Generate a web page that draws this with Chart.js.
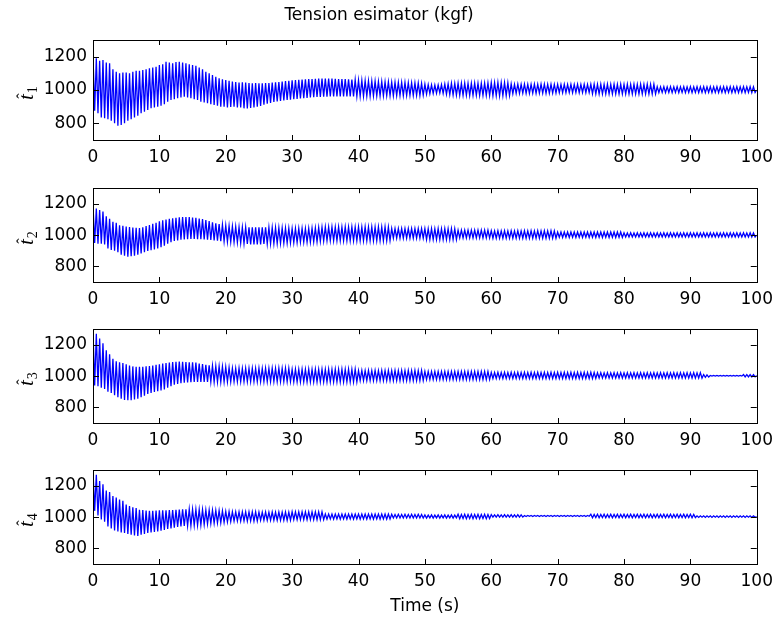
<!DOCTYPE html>
<html>
<head>
<meta charset="utf-8">
<script src="https://cdn.jsdelivr.net/npm/chart.js@4.4.1/dist/chart.umd.min.js"></script>
<style>
  html, body { margin: 0; padding: 0; background: #fff; }
  #wrap { position: relative; width: 780px; height: 623px; }
  canvas { position: absolute; left: 0; }
</style>
</head>
<body>
<div id="wrap">
  <canvas id="c1" width="780" height="170" style="top:0px"></canvas>
  <canvas id="c2" width="780" height="140" style="top:172px"></canvas>
  <canvas id="c3" width="780" height="140" style="top:313px"></canvas>
  <canvas id="c4" width="780" height="169" style="top:454px"></canvas>
</div>
<script>
// sample step of the read-off values (s)
const DT = 0.25;
const X_TICKS = [0, 10, 20, 30, 40, 50, 60, 70, 80, 90, 100];
const Y_TICKS = [800, 1000, 1200];

// tension estimates (kgf), one value every 0.25 s
const T1_HAT = [
  1205, 875, 1190, 860, 1175, 835, 1180, 830, 1165, 825, 1160, 815, 1125, 800, 1110, 785, 1100, 790, 1105, 800,
  1105, 815, 1100, 825, 1110, 835, 1115, 845, 1115, 860, 1120, 870, 1125, 880, 1130, 890, 1135, 895, 1140, 900,
  1150, 905, 1155, 915, 1170, 930, 1165, 940, 1160, 945, 1168, 950, 1170, 955, 1165, 960, 1160, 955, 1155, 950,
  1150, 945, 1145, 940, 1135, 930, 1125, 925, 1110, 920, 1100, 915, 1090, 910, 1080, 905, 1070, 900, 1065, 900,
  1060, 895, 1055, 898, 1050, 900, 1048, 895, 1045, 895, 1046, 890, 1044, 890, 1042, 892, 1040, 895, 1041, 900,
  1040, 905, 1040, 912, 1041, 918, 1042, 922, 1044, 928, 1046, 932, 1048, 934, 1050, 937, 1053, 940, 1055, 942,
  1058, 945, 1060, 947, 1061, 950, 1062, 951, 1064, 953, 1065, 955, 1066, 957, 1067, 958, 1068, 959, 1068, 960,
  1068, 960, 1068, 961, 1068, 961, 1067, 962, 1066, 962, 1066, 962, 1065, 962, 1064, 962, 1062, 962, 1061, 962,
  1058, 962, 1057, 963, 1055, 964, 1054, 964, 1053, 965, 1052, 965, 1050, 965, 1050, 966, 1049, 966, 1048, 966,
  1046, 966, 1046, 967, 1045, 967, 1045, 967, 1045, 967, 1044, 968, 1043, 968, 1043, 968, 1042, 968, 1040, 970,
  1035, 975, 1032, 978, 1030, 980, 1030, 981, 1030, 982, 1032, 980, 1035, 975, 1037, 972, 1040, 970, 1040, 969,
  1040, 968, 1040, 968, 1041, 968, 1040, 967, 1040, 968, 1041, 968, 1040, 967, 1040, 968, 1041, 968, 1042, 967,
  1044, 966, 1044, 966, 1045, 965, 1044, 966, 1044, 966, 1043, 967, 1036, 978, 1034, 980, 1035, 980, 1034, 981,
  1035, 980, 1034, 980, 1034, 981, 1035, 980, 1034, 981, 1035, 981, 1035, 980, 1034, 981, 1034, 982, 1034, 982,
  1034, 984, 1033, 984, 1034, 984, 1033, 985, 1034, 984, 1033, 985, 1034, 984, 1033, 985, 1034, 984, 1033, 985,
  1034, 978, 1035, 976, 1034, 976, 1035, 976, 1034, 976, 1035, 976, 1034, 976, 1035, 976, 1034, 976, 1035, 976,
  1034, 976, 1035, 976, 1034, 976, 1035, 976, 1034, 976, 1035, 976, 1034, 976, 1035, 976, 1034, 976, 1035, 976,
  1020, 984, 1019, 985, 1020, 984, 1019, 985, 1020, 984, 1019, 985, 1020, 984, 1019, 985, 1020, 984, 1019, 985,
  1020, 984, 1019, 985, 1020, 984, 1019, 985, 1020, 984, 1019, 985, 1020, 984, 1019, 985, 1020, 984, 1019, 985,
  1020, 984, 1019, 985, 1020, 984, 1019, 985, 1020, 984, 1019, 985, 1020, 984, 1019, 985, 1020, 984, 1019, 985,
  1000
];

const T2_HAT = [
  1190, 950, 1170, 945, 1160, 945, 1150, 940, 1120, 915, 1105, 905, 1085, 900, 1078, 890, 1062, 875, 1060, 868,
  1055, 862, 1052, 865, 1048, 868, 1046, 875, 1045, 882, 1050, 890, 1058, 898, 1064, 904, 1072, 908, 1078, 914,
  1088, 922, 1094, 932, 1100, 945, 1104, 955, 1108, 962, 1110, 966, 1114, 970, 1115, 972, 1115, 974, 1115, 975,
  1113, 975, 1111, 974, 1106, 973, 1102, 972, 1096, 970, 1090, 969, 1082, 966, 1076, 964, 1070, 961, 1066, 960,
  1061, 958, 1058, 957, 1056, 955, 1054, 953, 1051, 949, 1050, 946, 1050, 943, 1050, 941, 1050, 940, 1050, 940,
  1050, 941, 1050, 943, 1050, 945, 1049, 945, 1048, 946, 1047, 947, 1046, 948, 1046, 949, 1045, 950, 1044, 951,
  1042, 952, 1042, 953, 1042, 955, 1043, 955, 1042, 955, 1043, 956, 1044, 957, 1046, 958, 1048, 960, 1050, 962,
  1052, 965, 1051, 965, 1052, 965, 1051, 965, 1052, 965, 1051, 965, 1052, 965, 1051, 965, 1052, 965, 1051, 965,
  1052, 965, 1051, 965, 1052, 965, 1051, 965, 1052, 965, 1051, 965, 1052, 965, 1051, 965, 1052, 965, 1051, 965,
  1042, 980, 1042, 980, 1042, 980, 1042, 980, 1042, 980, 1042, 980, 1042, 980, 1042, 980, 1042, 980, 1042, 980,
  1042, 972, 1041, 972, 1042, 972, 1041, 972, 1042, 972, 1041, 972, 1042, 972, 1041, 972, 1042, 972, 1041, 972,
  1032, 982, 1032, 982, 1032, 982, 1032, 982, 1032, 982, 1032, 982, 1032, 982, 1032, 982, 1032, 982, 1032, 982,
  1028, 980, 1027, 980, 1028, 980, 1027, 980, 1028, 980, 1027, 980, 1028, 980, 1027, 980, 1028, 980, 1027, 980,
  1028, 980, 1027, 980, 1028, 980, 1027, 980, 1028, 980, 1027, 980, 1028, 980, 1027, 980, 1028, 980, 1027, 980,
  1020, 986, 1020, 985, 1020, 986, 1020, 985, 1020, 986, 1020, 985, 1020, 986, 1020, 985, 1020, 986, 1020, 985,
  1020, 986, 1020, 985, 1020, 986, 1020, 985, 1020, 986, 1020, 985, 1020, 986, 1020, 985, 1020, 986, 1020, 985,
  1015, 988, 1014, 988, 1015, 988, 1014, 988, 1015, 988, 1014, 988, 1015, 988, 1014, 988, 1015, 988, 1014, 988,
  1015, 988, 1014, 988, 1015, 988, 1014, 988, 1015, 988, 1014, 988, 1015, 988, 1014, 988, 1015, 988, 1014, 988,
  1015, 988, 1014, 988, 1015, 988, 1014, 988, 1015, 988, 1014, 988, 1015, 988, 1014, 988, 1015, 988, 1014, 988,
  1015, 988, 1014, 988, 1015, 988, 1014, 988, 1015, 988, 1014, 988, 1015, 988, 1014, 988, 1015, 988, 1014, 988,
  1000
];

const T3_HAT = [
  1290, 940, 1270, 935, 1240, 925, 1210, 918, 1165, 900, 1140, 892, 1110, 878, 1095, 865, 1088, 855, 1084, 848,
  1075, 845, 1068, 846, 1062, 850, 1060, 855, 1060, 865, 1060, 875, 1062, 885, 1064, 892, 1068, 898, 1072, 903,
  1076, 908, 1080, 915, 1084, 925, 1087, 935, 1090, 945, 1091, 950, 1093, 954, 1092, 957, 1090, 959, 1089, 961,
  1088, 962, 1086, 962, 1081, 963, 1077, 963, 1072, 963, 1069, 963, 1066, 963, 1064, 963, 1062, 963, 1060, 963,
  1058, 964, 1055, 964, 1050, 965, 1049, 965, 1050, 965, 1049, 965, 1050, 965, 1049, 965, 1050, 965, 1049, 965,
  1050, 965, 1049, 965, 1050, 965, 1049, 965, 1050, 965, 1049, 965, 1050, 965, 1049, 965, 1050, 965, 1049, 965,
  1043, 963, 1044, 963, 1043, 963, 1044, 963, 1043, 963, 1044, 963, 1043, 963, 1044, 963, 1043, 963, 1044, 963,
  1043, 963, 1044, 963, 1043, 963, 1044, 963, 1043, 963, 1044, 963, 1043, 963, 1044, 963, 1043, 963, 1044, 963,
  1035, 972, 1036, 972, 1035, 972, 1036, 972, 1035, 972, 1036, 972, 1035, 972, 1036, 972, 1035, 972, 1036, 972,
  1035, 972, 1036, 972, 1035, 972, 1036, 972, 1035, 972, 1036, 972, 1035, 972, 1036, 972, 1035, 972, 1036, 972,
  1030, 978, 1030, 978, 1030, 978, 1030, 978, 1030, 978, 1030, 978, 1030, 978, 1030, 978, 1030, 978, 1030, 978,
  1030, 978, 1030, 978, 1030, 978, 1030, 978, 1030, 978, 1030, 978, 1030, 978, 1030, 978, 1030, 978, 1030, 978,
  1024, 984, 1023, 985, 1024, 984, 1023, 985, 1024, 984, 1023, 985, 1024, 984, 1023, 985, 1024, 984, 1023, 985,
  1024, 984, 1023, 985, 1024, 984, 1023, 985, 1024, 984, 1023, 985, 1024, 984, 1023, 985, 1024, 984, 1023, 985,
  1024, 984, 1023, 985, 1024, 984, 1023, 985, 1024, 984, 1023, 985, 1024, 984, 1023, 985, 1024, 984, 1023, 985,
  1024, 984, 1023, 985, 1021, 988, 1022, 987, 1021, 988, 1022, 987, 1021, 988, 1022, 987, 1021, 988, 1022, 987,
  1021, 988, 1022, 987, 1021, 988, 1022, 987, 1021, 988, 1022, 987, 1021, 988, 1022, 987, 1021, 988, 1022, 987,
  1021, 988, 1022, 987, 1021, 988, 1022, 987, 1021, 988, 1022, 987, 1021, 988, 1022, 987, 1021, 988, 1022, 987,
  1021, 988, 1022, 987, 1021, 988, 1022, 987, 1010, 992, 1008, 994, 1004, 1000, 1004, 1000, 1004, 1000, 1004, 1000,
  1004, 1000, 1004, 1000, 1004, 1000, 1004, 1000, 1004, 1000, 1004, 1000, 1010, 995, 1010, 995, 1010, 995, 1010, 995,
  1004
];

const T4_HAT = [
  1295, 1040, 1270, 1010, 1230, 985, 1210, 970, 1170, 940, 1160, 928, 1135, 915, 1125, 908, 1112, 902, 1105, 898,
  1080, 892, 1070, 888, 1062, 882, 1058, 880, 1047, 888, 1045, 892, 1042, 898, 1041, 902, 1040, 905, 1042, 908,
  1044, 913, 1044, 918, 1044, 924, 1045, 928, 1045, 933, 1046, 937, 1049, 941, 1050, 943, 1050, 945, 1050, 946,
  1050, 948, 1049, 949, 1048, 950, 1047, 953, 1045, 957, 1045, 959, 1044, 961, 1043, 963, 1042, 964, 1040, 966,
  1036, 969, 1035, 971, 1034, 975, 1034, 976, 1034, 975, 1034, 976, 1034, 975, 1034, 976, 1034, 975, 1034, 976,
  1032, 980, 1031, 980, 1032, 980, 1031, 980, 1032, 980, 1031, 980, 1032, 980, 1031, 980, 1032, 980, 1031, 980,
  1034, 984, 1033, 984, 1034, 984, 1033, 984, 1034, 984, 1033, 984, 1034, 984, 1033, 984, 1034, 984, 1033, 984,
  1020, 987, 1020, 988, 1020, 987, 1020, 988, 1020, 987, 1020, 988, 1020, 987, 1020, 988, 1020, 987, 1020, 988,
  1020, 987, 1020, 988, 1020, 987, 1020, 988, 1020, 987, 1020, 988, 1020, 987, 1020, 988, 1020, 987, 1020, 988,
  1018, 994, 1017, 994, 1018, 994, 1017, 994, 1018, 994, 1017, 994, 1018, 994, 1017, 994, 1018, 994, 1017, 994,
  1014, 994, 1013, 995, 1014, 994, 1013, 995, 1014, 994, 1013, 995, 1014, 994, 1013, 995, 1014, 994, 1013, 995,
  1018, 990, 1017, 991, 1018, 990, 1017, 991, 1018, 990, 1017, 991, 1018, 990, 1017, 991, 1018, 990, 1017, 991,
  1016, 1000, 1015, 1000, 1016, 1000, 1015, 1000, 1016, 1000, 1015, 1000, 1016, 1000, 1015, 1000, 1016, 1000, 1015, 1000,
  1010, 1004, 1010, 1005, 1010, 1004, 1010, 1005, 1010, 1004, 1010, 1005, 1010, 1004, 1010, 1005, 1010, 1004, 1010, 1005,
  1010, 1004, 1010, 1005, 1010, 1004, 1010, 1005, 1010, 1004, 1010, 1005, 1010, 1004, 1010, 1005, 1010, 1004, 1010, 1005,
  1018, 996, 1017, 997, 1018, 996, 1017, 997, 1018, 996, 1017, 997, 1018, 996, 1017, 997, 1018, 996, 1017, 997,
  1018, 996, 1017, 997, 1018, 996, 1017, 997, 1018, 996, 1017, 997, 1018, 996, 1017, 997, 1018, 996, 1017, 997,
  1018, 996, 1017, 997, 1018, 996, 1017, 997, 1018, 996, 1017, 997, 1018, 996, 1017, 997, 1018, 996, 1017, 997,
  1018, 996, 1017, 997, 1008, 998, 1008, 999, 1008, 998, 1008, 999, 1008, 998, 1008, 999, 1008, 998, 1008, 999,
  1008, 998, 1008, 999, 1008, 998, 1008, 999, 1008, 998, 1008, 999, 1008, 998, 1008, 999, 1008, 998, 1008, 999,
  1003
];

// time grid matching the samples above
const TIME = T1_HAT.map((_, i) => i * DT);

const FONT = 'DejaVu Sans';

// MATLAB style box with inward ticks on all four sides + math y label
const matlabBox = {
  id: 'matlabBox',
  afterDatasetsDraw(chart, args, opts) {
    const { ctx, chartArea: a, scales: { x, y } } = chart;
    ctx.save();
    ctx.strokeStyle = '#000';
    ctx.lineWidth = 1;
    ctx.beginPath();
    X_TICKS.forEach(v => {
      const px = Math.round(x.getPixelForValue(v)) + 0.5;
      ctx.moveTo(px, a.bottom); ctx.lineTo(px, a.bottom - 5);
      ctx.moveTo(px, a.top); ctx.lineTo(px, a.top + 5);
    });
    Y_TICKS.forEach(v => {
      const py = Math.round(y.getPixelForValue(v)) + 0.5;
      ctx.moveTo(a.left, py); ctx.lineTo(a.left + 6, py);
      ctx.moveTo(a.right, py); ctx.lineTo(a.right - 6, py);
    });
    ctx.stroke();
    ctx.strokeRect(Math.round(a.left) + 0.5, Math.round(a.top) + 0.5,
      Math.round(a.right - a.left), Math.round(a.bottom - a.top));

    // y label: t-hat with subscript, rotated
    const cy = (a.top + a.bottom) / 2;
    ctx.translate(33, cy + 10);
    ctx.rotate(-Math.PI / 2);
    ctx.fillStyle = '#000';
    ctx.textBaseline = 'alphabetic';
    ctx.textAlign = 'left';
    ctx.font = 'italic 21px "Liberation Serif"';
    ctx.fillText('t', 0, 0);
    const tw = ctx.measureText('t').width;
    ctx.font = '16px "Liberation Serif"';
    ctx.textAlign = 'center';
    ctx.fillText('\u02C6', tw / 2 + 1, -5);
    ctx.textAlign = 'left';
    ctx.font = '14px "Liberation Serif"';
    ctx.fillText(opts.sub, tw + 1, 4);
    ctx.restore();
  }
};

function makeChart(id, values, sub, first, last) {
  const ctx = document.getElementById(id).getContext('2d');
  return new Chart(ctx, {
    type: 'line',
    data: {
      labels: TIME,
      datasets: [{
        data: values,
        borderColor: '#0000ff',
        borderWidth: 1.3,
        pointRadius: 0,
        tension: 0,
        fill: false
      }]
    },
    options: {
      responsive: false,
      animation: false,
      devicePixelRatio: 1,
      events: [],
      layout: { padding: { top: first ? 0 : 10, right: 22, left: 0, bottom: 0 } },
      plugins: {
        legend: { display: false },
        tooltip: { enabled: false },
        title: {
          display: first,
          text: 'Tension esimator (kgf)',
          color: '#000',
          font: { family: FONT, size: 17, weight: 'normal' },
          padding: { top: 5, bottom: 14.6 }
        },
        matlabBox: { sub: sub }
      },
      scales: {
        x: {
          type: 'linear',
          min: 0,
          max: 100,
          afterBuildTicks: s => { s.ticks = X_TICKS.map(v => ({ value: v })); },
          afterFit: s => { s.height = last ? 59 : 30; },
          grid: { display: false, drawTicks: false },
          border: { display: false },
          ticks: {
            color: '#000', padding: 7, maxRotation: 0,
            font: { family: FONT, size: 17 },
            callback: v => String(v)
          },
          title: {
            display: last,
            text: 'Time (s)',
            color: '#000',
            font: { family: FONT, size: 17 },
            padding: { top: 0, bottom: 6 }
          }
        },
        y: {
          min: 700,
          max: 1300,
          afterBuildTicks: s => { s.ticks = Y_TICKS.map(v => ({ value: v })); },
          afterFit: s => { s.width = 93; },
          grid: { display: false, drawTicks: false },
          border: { display: false },
          ticks: {
            color: '#000', padding: 6,
            font: { family: FONT, size: 17 },
            callback: v => String(v)
          }
        }
      }
    },
    plugins: [matlabBox]
  });
}

makeChart('c1', T1_HAT, '1', true, false);
makeChart('c2', T2_HAT, '2', false, false);
makeChart('c3', T3_HAT, '3', false, false);
makeChart('c4', T4_HAT, '4', false, true);
</script>
</body>
</html>
